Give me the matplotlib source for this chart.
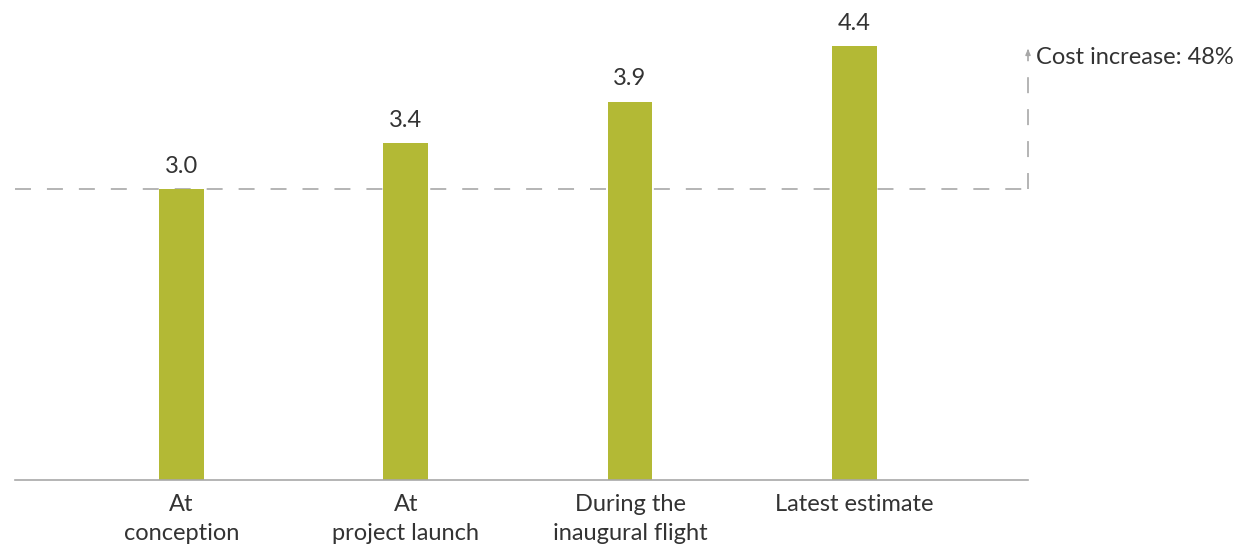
import matplotlib
matplotlib.use("Agg")
import matplotlib.pyplot as plt
import matplotlib.transforms as mtransforms

plt.rcParams['font.family'] = ['Lato', 'DejaVu Sans']
plt.rcParams['lines.scale_dashes'] = False

categories = ["At\nconception", "At\nproject launch", "During the\ninaugural flight", "Latest estimate"]
values = [2.97, 3.44, 3.86, 4.43]
value_labels = ["3.0", "3.4", "3.9", "4.4"]
increase_label = "Cost increase: 48%"

bar_color = "#b3b935"
text_color = "#333333"
grey = "#a8a8a8"
fs = 17

fig = plt.figure(figsize=(12.39, 5.44), dpi=100)
ax = fig.add_axes([15/1239, 1-480/544, (1028-15)/1239, 480/544])

x = list(range(len(categories)))
ax.bar(x, values, width=0.2, color=bar_color, zorder=2)
for xi, v, lab in zip(x, values, value_labels):
    ax.annotate(lab, (xi, v), xytext=(0, 9), textcoords="offset points",
                ha="center", va="bottom", fontsize=fs, color=text_color)

ax.set_xlim(-0.743, 3.775)
ax.set_ylim(0, 4.90)
ax.set_xticks(x)
ax.set_xticklabels(categories, fontsize=fs, color=text_color, linespacing=1.45)
ax.tick_params(axis="x", length=0, pad=10)
ax.set_yticks([])
for s in ["top", "right", "left"]:
    ax.spines[s].set_visible(False)
ax.spines["bottom"].set_color(grey)
ax.spines["bottom"].set_linewidth(1.2)

# reference dashed line at first value
ax.axhline(values[0], color=grey, lw=1.2, dashes=(11.5, 11.5), zorder=1)

# vertical dashed line with arrow at right edge
trans = mtransforms.blended_transform_factory(ax.transAxes, ax.transData)
ax.plot([1, 1], [values[0], values[-1] - 0.05], transform=trans, color=grey,
        lw=1.2, dashes=(11.5, 11.5), clip_on=False)
ax.annotate("", xy=(1, values[-1]), xytext=(1, values[-1] - 0.08),
            xycoords=trans, textcoords=trans,
            arrowprops=dict(arrowstyle="-|>,head_length=0.35,head_width=0.15",
                            color=grey, lw=1.0), annotation_clip=False)
ax.annotate(increase_label, (1, values[-1]), xycoords=trans,
            xytext=(6, -8), textcoords="offset points",
            ha="left", va="center", fontsize=fs, color=text_color,
            annotation_clip=False)

fig.savefig("out.png", dpi=100)
